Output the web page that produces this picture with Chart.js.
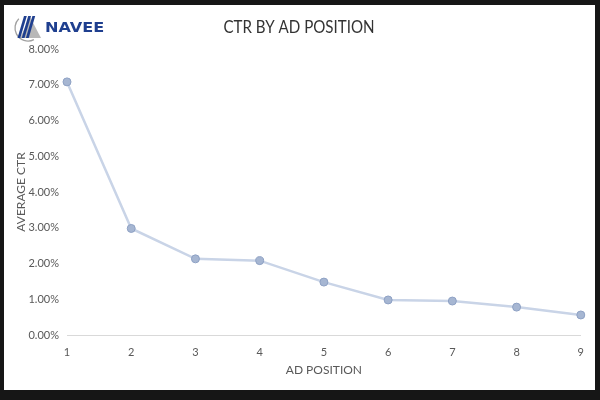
<!DOCTYPE html>
<html><head><meta charset="utf-8">
<script src="https://cdn.jsdelivr.net/npm/chart.js@4/dist/chart.umd.min.js"></script>
<style>
html,body{margin:0;padding:0;background:#161616;width:600px;height:400px;overflow:hidden}
#wrap{position:absolute;left:4px;top:5px;width:591px;height:385px;background:#fff}
</style></head><body>
<div id="wrap"><canvas id="c" width="591" height="385"></canvas></div>
<script>
const categories = ['1','2','3','4','5','6','7','8','9'];
const avgCtr = [7.08, 2.98, 2.13, 2.08, 1.48, 0.98, 0.95, 0.78, 0.56];
const chartTitle = 'CTR BY AD POSITION';
const xTitle = 'AD POSITION';
const yTitle = 'AVERAGE CTR';
const brand = 'NAVEE';

const FONT = 'Lato, "Open Sans", sans-serif';

const decor = {
  id: 'decor',
  afterDraw(chart) {
    const ctx = chart.ctx;
    ctx.save();
    // title (condensed)
    ctx.fillStyle = '#333333';
    ctx.font = '18px ' + FONT;
    ctx.textAlign = 'center';
    ctx.textBaseline = 'middle';
    ctx.save();
    ctx.translate(295, 22);
    ctx.scale(0.84, 1);
    ctx.fillText(chartTitle, 0, 0);
    ctx.restore();
    // logo icon
    const cx = 24, cy = 23;
    ctx.strokeStyle = '#a0a0a0';
    ctx.lineWidth = 1.3;
    ctx.beginPath();
    ctx.arc(cx, cy, 13, Math.PI * 0.35, Math.PI * 1.25);
    ctx.stroke();
    ctx.fillStyle = '#b8b8b8';
    ctx.beginPath();
    ctx.moveTo(26, 12); ctx.lineTo(37, 33); ctx.lineTo(16, 33); ctx.closePath();
    ctx.fill();
    ctx.fillStyle = '#1f3f8f';
    for (let i = 0; i < 3; i++) {
      const ox = i * 4.2;
      ctx.beginPath();
      ctx.moveTo(20 + ox, 11); ctx.lineTo(22.8 + ox, 11);
      ctx.lineTo(16.3 + ox, 33); ctx.lineTo(13.5 + ox, 33);
      ctx.closePath(); ctx.fill();
    }
    // brand text (extended)
    ctx.font = 'bold 14px "DejaVu Sans", sans-serif';
    ctx.textAlign = 'left';
    ctx.fillStyle = '#1f3f8f';
    ctx.save();
    ctx.translate(41, 23);
    ctx.scale(1.15, 1);
    ctx.fillText(brand, 0, 0);
    ctx.restore();
    ctx.restore();
  }
};

new Chart(document.getElementById('c'), {
  type: 'line',
  data: {
    labels: categories,
    datasets: [{
      data: avgCtr,
      borderColor: '#c9d4e7',
      borderWidth: 2.5,
      pointRadius: 4,
      pointBackgroundColor: '#a6b6d2',
      pointBorderColor: '#8ea1c4',
      pointBorderWidth: 1,
      tension: 0
    }]
  },
  options: {
    responsive: false,
    animation: false,
    layout: { padding: { top: 44, right: 12, left: 0, bottom: 0 } },
    plugins: { legend: { display: false }, title: { display: false }, tooltip: { enabled: false } },
    scales: {
      x: {
        offset: false,
        grid: { display: false, drawTicks: false },
        border: { display: true, color: '#d9d9d9', width: 1 },
        ticks: { color: '#595959', font: { family: FONT, size: 11 }, padding: 11, maxRotation: 0 },
        title: { display: true, text: xTitle, color: '#595959', font: { family: FONT, size: 12 }, padding: { top: 4, bottom: 13 } },
        afterFit(s) { s.height = 55; }
      },
      y: {
        min: 0, max: 8,
        grid: { display: false, drawTicks: false },
        border: { display: false },
        ticks: { stepSize: 1, color: '#595959', font: { family: FONT, size: 11 }, padding: 8,
          callback: v => v.toFixed(2) + '%' },
        title: { display: true, text: yTitle, color: '#595959', font: { family: FONT, size: 12 }, padding: { top: 10, bottom: 0 } },
        afterFit(s) { s.width = 63; }
      }
    }
  },
  plugins: [decor]
});
</script>
</body></html>
